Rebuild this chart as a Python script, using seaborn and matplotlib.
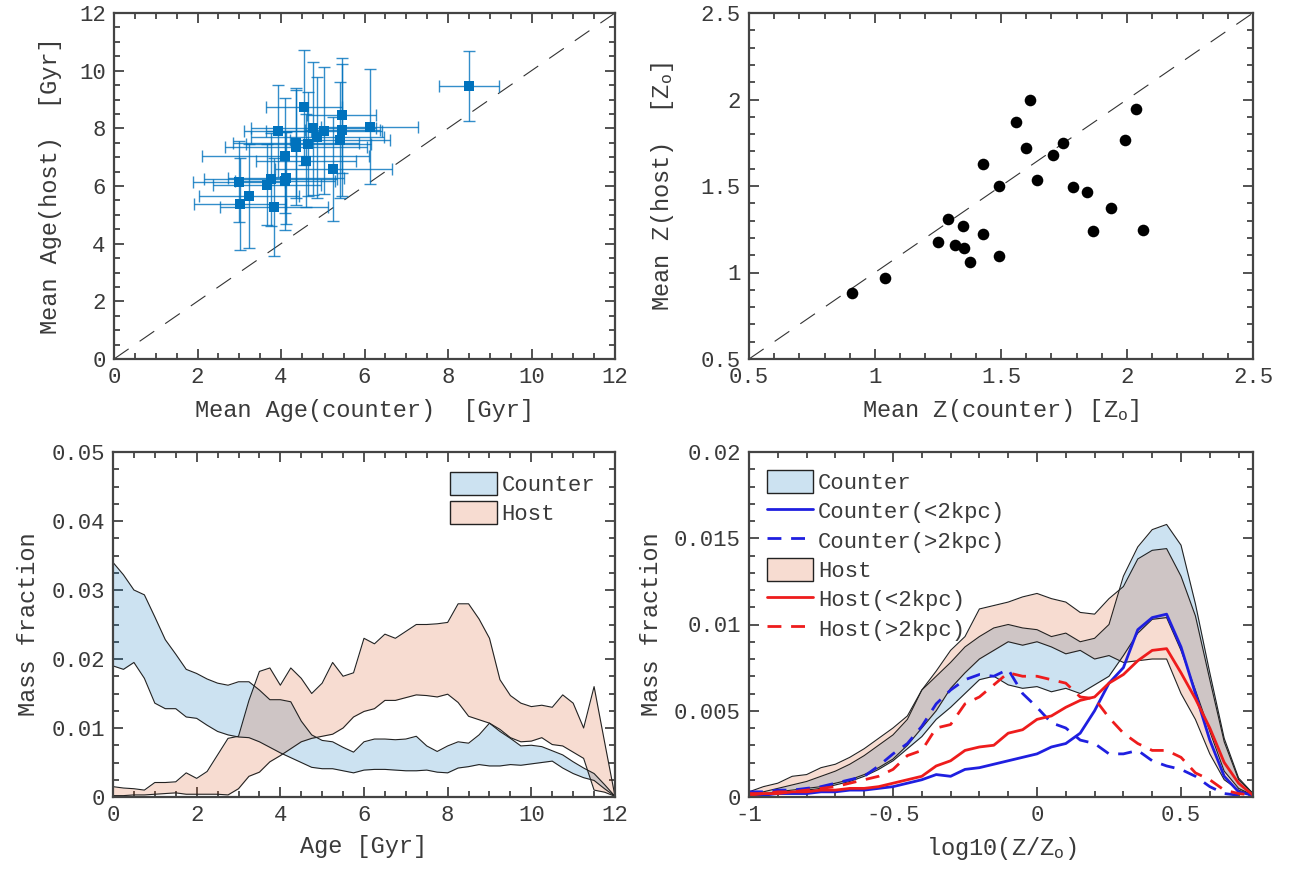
import numpy as np
import pandas as pd
import matplotlib
matplotlib.use("Agg")
import matplotlib.pyplot as plt
from matplotlib.ticker import MultipleLocator, FuncFormatter
from matplotlib.patches import Patch
from matplotlib.lines import Line2D
from matplotlib.colors import to_rgba
import seaborn as sns

# ---------------- data ----------------
# top-left: mean ages with errors
age_counter = [8.51, 4.55, 5.45, 6.12, 3.92, 4.77, 5.03, 5.47, 4.87, 5.41, 4.36, 4.65,
               4.36, 4.10, 4.60, 5.25, 3.00, 3.67, 3.75, 4.12, 4.10, 3.23, 3.02, 3.83]
age_host = [9.47, 8.73, 8.45, 8.06, 7.92, 8.00, 7.92, 7.94, 7.69, 7.60, 7.34, 7.45,
            7.49, 7.05, 6.88, 6.58, 6.15, 6.04, 6.23, 6.27, 6.17, 5.65, 5.38, 5.26]
age_counter_err = [0.72, 0.90, 0.82, 1.15, 0.80, 1.50, 1.40, 0.90, 1.60, 1.20, 1.70, 1.50,
                   1.50, 2.00, 1.20, 1.40, 1.10, 1.30, 1.60, 1.40, 1.20, 1.20, 1.10, 1.30]
age_host_err = [1.20, 2.00, 2.00, 2.00, 1.60, 2.30, 2.20, 2.30, 2.10, 2.00, 2.00, 1.80,
                1.90, 2.00, 1.60, 1.80, 1.40, 1.40, 1.60, 1.60, 1.70, 1.80, 1.60, 1.70]

# top-right: mean metallicities
z_counter = [0.91, 1.04, 1.251, 1.288, 1.317, 1.35, 1.354, 1.377, 1.427, 1.43, 1.492, 1.492,
             1.56, 1.60, 1.615, 1.642, 1.708, 1.745, 1.784, 1.843, 1.866, 1.938, 1.992, 2.036, 2.065]
z_host = [0.88, 0.967, 1.179, 1.31, 1.158, 1.269, 1.142, 1.058, 1.629, 1.221, 1.498, 1.098,
          1.868, 1.722, 1.995, 1.533, 1.677, 1.75, 1.494, 1.465, 1.24, 1.375, 1.768, 1.944, 1.243]

# bottom-left: age distributions (bands)
age_grid = [0.0, 0.25, 0.5, 0.75, 1.0, 1.25, 1.5, 1.75, 2.0, 2.25, 2.5, 2.75, 3.0, 3.25, 3.5, 3.75,
            4.0, 4.25, 4.5, 4.75, 5.0, 5.25, 5.5, 5.75, 6.0, 6.25, 6.5, 6.75, 7.0, 7.25, 7.5, 7.75,
            8.0, 8.25, 8.5, 8.75, 9.0, 9.25, 9.5, 9.75, 10.0, 10.25, 10.5, 10.75, 11.0, 11.25, 11.5,
            11.75, 12.0]
counter_age_hi = [.0340, .0322, .0300, .0293, .0261, .0228, .0207, .0185, .0179, .0171, .0165, .0162,
                  .0167, .0167, .0155, .0141, .0141, .0138, .0110, .0090, .0082, .0080, .0072, .0065,
                  .0080, .0084, .0084, .0083, .0084, .0088, .0074, .0066, .0074, .0080, .0078, .0090,
                  .0107, .0095, .0085, .0074, .0075, .0073, .0067, .0061, .0051, .0042, .0034, .0018, .0001]
counter_age_lo = [.0190, .0185, .0195, .0172, .0136, .0128, .0128, .0116, .0114, .0104, .0095, .0090,
                  .0087, .0086, .0080, .0072, .0064, .0057, .0050, .0043, .0041, .0041, .0038, .0035,
                  .0039, .0040, .0040, .0039, .0038, .0038, .0039, .0036, .0035, .0042, .0044, .0047,
                  .0045, .0045, .0047, .0046, .0048, .0050, .0052, .0042, .0034, .0028, .0024, .0012, .0001]
host_age_hi = [.0015, .0013, .0012, .0010, .0021, .0021, .0022, .0035, .0027, .0037, .0061, .0085,
               .0088, .0140, .0182, .0187, .0162, .0187, .0172, .0150, .0165, .0195, .0175, .0180,
               .0230, .0222, .0236, .0230, .0240, .0250, .0250, .0251, .0253, .0280, .0280, .0258,
               .0230, .0170, .0147, .0136, .0131, .0133, .0130, .0148, .0136, .0100, .0160, .0080, .0001]
host_age_lo = [.0002, .0002, .0003, .0003, .0004, .0005, .0006, .0004, .0004, .0004, .0004, .0003,
               .0012, .0030, .0036, .0051, .0060, .0070, .0080, .0085, .0088, .0091, .0100, .0116,
               .0124, .0128, .0140, .0140, .0144, .0148, .0147, .0145, .0149, .0137, .0117, .0112,
               .0107, .0098, .0086, .0080, .0081, .0086, .0076, .0074, .0065, .0056, .0010, .0007, .0001]

# bottom-right: metallicity distributions
logz = [-1.0, -0.95, -0.9, -0.85, -0.8, -0.75, -0.7, -0.65, -0.6, -0.55, -0.5, -0.45, -0.4, -0.35,
        -0.3, -0.25, -0.2, -0.15, -0.1, -0.05, 0.0, 0.05, 0.1, 0.15, 0.2, 0.25, 0.3, 0.35, 0.4,
        0.45, 0.5, 0.55, 0.6, 0.65, 0.7, 0.75]
counter_z_hi = [.0002, .0003, .0005, .0007, .0009, .0012, .0015, .0019, .0024, .0030, .0036, .0045,
                .0062, .0070, .0078, .0087, .0093, .0098, .0100, .0098, .0097, .0093, .0095, .0090,
                .0092, .0100, .0128, .0145, .0155, .0158, .0146, .0112, .0072, .0034, .0011, .0002]
counter_z_lo = [.0001, .0001, .0002, .0003, .0004, .0005, .0007, .0009, .0012, .0016, .0021, .0028,
                .0035, .0045, .0052, .0060, .0068, .0070, .0065, .0063, .0064, .0061, .0063, .0060,
                .0065, .0070, .0082, .0095, .0103, .0104, .0085, .0062, .0038, .0015, .0005, .0001]
host_z_hi = [.0003, .0006, .0008, .0012, .0013, .0017, .0019, .0023, .0028, .0034, .0040, .0047,
             .0062, .0073, .0085, .0093, .0109, .0111, .0113, .0116, .0118, .0115, .0113, .0107,
             .0106, .0115, .0122, .0138, .0143, .0144, .0128, .0105, .0068, .0032, .0010, .0002]
host_z_lo = [.0001, .0002, .0003, .0004, .0005, .0006, .0008, .0010, .0013, .0017, .0022, .0030,
             .0040, .0050, .0063, .0072, .0080, .0085, .0090, .0088, .0090, .0087, .0083, .0085,
             .0080, .0082, .0078, .0079, .0080, .0080, .0060, .0045, .0025, .0010, .0004, .0001]
counter_in = [.0001, .0001, .0002, .0002, .0002, .0003, .0003, .0004, .0004, .0005, .0006, .0008,
              .0010, .0013, .0012, .0016, .0017, .0019, .0021, .0023, .0025, .0029, .0031, .0037,
              .0050, .0066, .0075, .0097, .0104, .0106, .0087, .0060, .0033, .0012, .0003, .0001]
counter_out = [.0003, .0003, .0004, .0004, .0005, .0006, .0008, .0010, .0012, .0018, .0025, .0031,
               .0041, .0054, .0062, .0068, .0071, .0070, .0074, .0060, .0052, .0043, .0040, .0033,
               .0031, .0025, .0025, .0027, .0021, .0018, .0016, .0012, .0006, .0002, .0001, .0000]
host_in = [.0001, .0002, .0002, .0003, .0003, .0004, .0004, .0005, .0005, .0006, .0008, .0010,
           .0012, .0018, .0021, .0027, .0029, .0030, .0037, .0039, .0045, .0047, .0052, .0056,
           .0058, .0066, .0071, .0079, .0085, .0086, .0072, .0057, .0040, .0020, .0008, .0001]
host_out = [.0002, .0002, .0003, .0003, .0004, .0005, .0006, .0008, .0010, .0012, .0016, .0024,
            .0027, .0040, .0042, .0054, .0058, .0065, .0072, .0070, .0070, .0068, .0066, .0058,
            .0057, .0046, .0037, .0031, .0027, .0027, .0023, .0014, .0010, .0004, .0002, .0001]

# ---------------- style ----------------
sns.set_theme(style="ticks")
plt.rcParams['font.family'] = ['Liberation Mono', 'DejaVu Sans']
plt.rcParams['mathtext.fontset'] = 'custom'
plt.rcParams['mathtext.rm'] = 'Liberation Mono'
plt.rcParams['mathtext.it'] = 'Liberation Mono'
TXT = '#3a3a3a'
plt.rcParams.update({
    'text.color': TXT, 'axes.labelcolor': TXT, 'xtick.color': '#444444', 'ytick.color': '#444444',
    'xtick.labelcolor': TXT, 'ytick.labelcolor': TXT,
    'axes.edgecolor': '#444444', 'axes.linewidth': 1.6,
})

C_BLUE = '#0072BD'
C_ORNG = '#D95319'
ALPHA = 0.2
F_BLUE = to_rgba(C_BLUE, ALPHA)
F_ORNG = to_rgba(C_ORNG, ALPHA)

W, H = 1290, 882
fig = plt.figure(figsize=(W / 100, H / 100), dpi=100)


def add_ax(l, r, t, b):
    return fig.add_axes([l / W, 1 - b / H, (r - l) / W, (b - t) / H])


fmt = FuncFormatter(lambda v, p: f'{v:g}')


def style(ax, xmaj, xmin, ymaj, ymin):
    ax.xaxis.set_major_locator(MultipleLocator(xmaj))
    ax.xaxis.set_minor_locator(MultipleLocator(xmin))
    ax.yaxis.set_major_locator(MultipleLocator(ymaj))
    ax.yaxis.set_minor_locator(MultipleLocator(ymin))
    ax.xaxis.set_major_formatter(fmt)
    ax.yaxis.set_major_formatter(fmt)
    ax.tick_params(which='both', direction='in', top=True, right=True, labelsize=16, width=1.3)
    ax.tick_params(which='major', length=7.5, pad=6)
    ax.tick_params(which='minor', length=4.5)
    for s in ax.spines.values():
        s.set_visible(True)


ax1 = add_ax(114, 615, 13, 359)
ax2 = add_ax(749, 1253, 13, 359)
ax3 = add_ax(113, 615, 452, 797)
ax4 = add_ax(749, 1253, 452, 797)

# ---- panel 1 ----
ax1.plot([0, 12], [0, 12], color='#333333', lw=0.8, dashes=(16, 12))
ax1.errorbar(age_counter, age_host, xerr=age_counter_err, yerr=age_host_err, fmt='none',
             ecolor=C_BLUE, elinewidth=1.0, capsize=4, capthick=1.0, alpha=0.8)
df1 = pd.DataFrame({'c': age_counter, 'h': age_host})
sns.scatterplot(data=df1, x='c', y='h', ax=ax1, marker='s', s=55, color=C_BLUE,
                edgecolor=C_BLUE, linewidth=0, zorder=5)
ax1.set_xlim(0, 12)
ax1.set_ylim(0, 12)
style(ax1, 2, 0.5, 2, 0.5)
ax1.set_xlabel('Mean Age(counter)  [Gyr]', fontsize=17, labelpad=8)
ax1.set_ylabel('Mean Age(host)  [Gyr]', fontsize=17, labelpad=12)

# ---- panel 2 ----
ax2.plot([0.5, 2.5], [0.5, 2.5], color='#333333', lw=0.8, dashes=(16, 12))
df2 = pd.DataFrame({'c': z_counter, 'h': z_host})
sns.scatterplot(data=df2, x='c', y='h', ax=ax2, marker='o', s=70, color='black',
                edgecolor='black', linewidth=0, zorder=5)
ax2.set_xlim(0.5, 2.5)
ax2.set_ylim(0.5, 2.5)
style(ax2, 0.5, 0.1, 0.5, 0.1)
ax2.set_xlabel(r'Mean Z(counter) [Z$_\mathrm{o}$]', fontsize=17, labelpad=6)
ax2.set_ylabel(r'Mean Z(host)  [Z$_\mathrm{o}$]', fontsize=17, labelpad=18)

# ---- panel 3 ----
EDGE = '#222222'
for lo, hi, c in [(counter_age_lo, counter_age_hi, F_BLUE), (host_age_lo, host_age_hi, F_ORNG)]:
    ax3.fill_between(age_grid, lo, hi, facecolor=c, linewidth=0)
    ax3.plot(age_grid, lo, color=EDGE, lw=0.8)
    ax3.plot(age_grid, hi, color=EDGE, lw=0.8)
ax3.set_xlim(0, 12)
ax3.set_ylim(0, 0.05)
style(ax3, 2, 0.5, 0.01, 0.0025)
ax3.set_xlabel('Age [Gyr]', fontsize=17, labelpad=6)
ax3.set_ylabel('Mass fraction', fontsize=17, labelpad=8)
h3 = [Patch(facecolor=F_BLUE, edgecolor='#222222', linewidth=1.0),
      Patch(facecolor=F_ORNG, edgecolor='#222222', linewidth=1.0)]
ax3.legend(h3, ['Counter', 'Host'], loc='upper right', frameon=False, fontsize=16,
           handlelength=2.1, handleheight=1.2, handletextpad=0.2, labelspacing=0.25,
           borderaxespad=0.5)

# ---- panel 4 ----
for lo, hi, c in [(counter_z_lo, counter_z_hi, F_BLUE), (host_z_lo, host_z_hi, F_ORNG)]:
    ax4.fill_between(logz, lo, hi, facecolor=c, linewidth=0)
    ax4.plot(logz, lo, color=EDGE, lw=0.8)
    ax4.plot(logz, hi, color=EDGE, lw=0.8)
LBLUE = '#1f1fe0'
LRED = '#ee1c1c'
df4 = pd.DataFrame({'x': logz, 'ci': counter_in, 'co': counter_out, 'hi': host_in, 'ho': host_out})
sns.lineplot(data=df4, x='x', y='ci', ax=ax4, color=LBLUE, lw=2.0)
sns.lineplot(data=df4, x='x', y='co', ax=ax4, color=LBLUE, lw=2.0).lines[-1].set_dashes((5, 3.5))
sns.lineplot(data=df4, x='x', y='hi', ax=ax4, color=LRED, lw=2.0)
sns.lineplot(data=df4, x='x', y='ho', ax=ax4, color=LRED, lw=2.0).lines[-1].set_dashes((5, 3.5))
ax4.set_xlim(-1, 0.75)
ax4.set_ylim(0, 0.02)
style(ax4, 0.5, 0.1, 0.005, 0.001)
ax4.set_xlabel(r'log10(Z/Z$_\mathrm{o}$)', fontsize=17, labelpad=6)
ax4.set_ylabel('Mass fraction', fontsize=17, labelpad=8)
h4 = [Patch(facecolor=F_BLUE, edgecolor='#222222', linewidth=1.0),
      Line2D([], [], color=LBLUE, lw=2.0),
      Line2D([], [], color=LBLUE, lw=2.0, dashes=(5, 3.5)),
      Patch(facecolor=F_ORNG, edgecolor='#222222', linewidth=1.0),
      Line2D([], [], color=LRED, lw=2.0),
      Line2D([], [], color=LRED, lw=2.0, dashes=(5, 3.5))]
ax4.legend(h4, ['Counter', 'Counter(<2kpc)', 'Counter(>2kpc)', 'Host', 'Host(<2kpc)',
                'Host(>2kpc)'], loc='upper left', frameon=False, fontsize=16,
           handlelength=2.1, handleheight=1.2, handletextpad=0.2, labelspacing=0.25,
           borderaxespad=0.4)

fig.savefig('out.png', dpi=100)
